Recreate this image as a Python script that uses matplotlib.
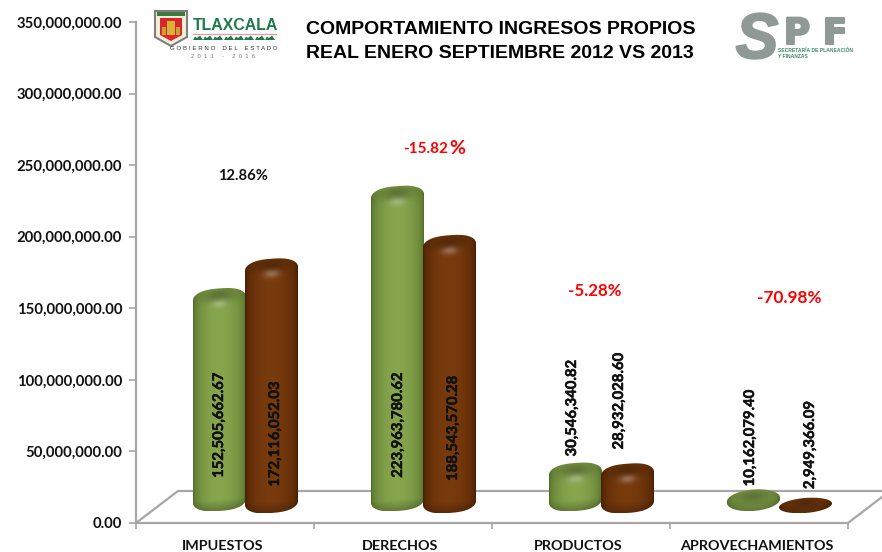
#Comportamiento ingresos propios, cylinder bars drawn on a flat axes
import numpy as np
import matplotlib
matplotlib.use("Agg")
import matplotlib.pyplot as plt
import matplotlib.patheffects as pe
from matplotlib.patches import Polygon, Rectangle
from matplotlib.ticker import FuncFormatter

#Data
categories=["IMPUESTOS","DERECHOS","PRODUCTOS","APROVECHAMIENTOS"]
real_2012=[152505662.67,223963780.62,30546340.82,10162079.40]
real_2013=[172116052.03,188543570.28,28932028.60,2949366.09]
changes=["12.86","-15.82","-5.28","-70.98"]
yticks=[0,50000000,100000000,150000000,200000000,250000000,300000000,350000000]

W,H=882,552
GREEN_DARK=np.array([0.30,0.41,0.15]); GREEN_LIGHT=np.array([0.53,0.65,0.30])
BROWN_DARK=np.array([0.27,0.11,0.00]); BROWN_LIGHT=np.array([0.47,0.23,0.05])
GRAY="#A6A6A6"

fig=plt.figure(figsize=(W/100,H/100),dpi=100)
left,right,top,bottom=136,848,22,523
ax=fig.add_axes([left/W,1-bottom/H,(right-left)/W,(bottom-top)/H])
ax.set_xlim(0,4); ax.set_ylim(0,350)
ax.patch.set_alpha(0)
#Overlays in pixel coordinates for floor, logos and free labels
pix=fig.add_axes([0,0,1,1],zorder=-1)
pix.set_xlim(0,W); pix.set_ylim(H,0); pix.axis("off")
top_pix=fig.add_axes([0,0,1,1],zorder=5)
top_pix.set_xlim(0,W); top_pix.set_ylim(H,0); top_pix.axis("off")

#Axes and floor
for name in ["top","right"]:
  ax.spines[name].set_visible(False)
for name in ["left","bottom"]:
  ax.spines[name].set_color(GRAY); ax.spines[name].set_linewidth(1.6)
ax.set_yticks([v/1e6 for v in yticks])
ax.yaxis.set_major_formatter(FuncFormatter(lambda v,p:"{:,.2f}".format(v*1e6)))
ax.tick_params(axis="y",length=5,width=1.2,color=GRAY,pad=5)
ax.set_xticks(range(5)); ax.set_xticklabels([])
ax.tick_params(axis="x",which="major",length=4,width=1.2,color=GRAY)
ax.set_xticks(np.arange(4)+0.485,minor=True)
ax.set_xticklabels(categories,minor=True)
ax.tick_params(axis="x",which="minor",length=0,pad=12)
for lab in ax.get_yticklabels():
  lab.set_family("Lato"); lab.set_fontweight("bold"); lab.set_fontsize(10.7); lab.set_color("#111111")
for lab in ax.get_xticklabels(minor=True):
  lab.set_family("Lato"); lab.set_fontweight("bold"); lab.set_fontsize(10.4); lab.set_color("#111111")
pix.plot([136,178,882],[523,491,491],color=GRAY,lw=1.6)
pix.plot([848,882],[523,497],color=GRAY,lw=1.6)

#A cylinder is a shaded image clipped to a tilted outline
def cylinder(x0,width,value,base,pad,min_h,dark,light):
  xc=x0+width/2; hw=width/2
  ytop=base+max(pad+value,min_h)
  e=min(7.0,(ytop-base)/2)
  slope=2.0/1.431/hw
  t1=np.linspace(0,np.pi,60); t2=np.linspace(np.pi,2*np.pi,60)
  #Rounded shoulders: a bit squarer than an ellipse
  sq=0.75 if ytop-base>20 else 1.0
  xs=np.concatenate([xc+hw*np.sign(np.cos(t1))*np.abs(np.cos(t1))**sq,xc+hw*np.sign(np.cos(t2))*np.abs(np.cos(t2))**sq])
  ys=np.concatenate([ytop-e+e*np.sin(t1),base+e+e*np.sin(t2)])
  ys=ys+slope*(xs-xc)
  u=np.linspace(-1,1,120)
  v=np.linspace(ys.max(),ys.min(),max(60,int((ytop-base)*3)))
  uu,vv=np.meshgrid(u,v)
  vv=vv-slope*hw*uu
  shade=np.cos(uu*np.pi/2)**0.45
  img=dark+(light-dark)*shade[...,None]
  #Dark top cap, highlight under it, dark bottom edge
  cap=np.exp(-(uu/0.65)**2-((vv-(ytop-e*0.7))/(e*0.8))**2)
  img=img*(1-0.30*cap[...,None])
  if ytop-base>20:
    spot=np.exp(-(uu/0.3)**2-((vv-(ytop-e*1.6))/(e*0.4))**2)
    img=img+(1-img)*0.28*spot[...,None]
  low=np.clip(1-(vv-base)/(e*1.1),0,1)
  img=img*(1-0.25*low[...,None])
  im=ax.imshow(np.clip(img,0,1),extent=[xc-hw,xc+hw,ys.min(),ys.max()],aspect="auto",zorder=3,interpolation="bilinear")
  clip=Polygon(np.column_stack([xs,ys]),closed=True,transform=ax.transData,fc="none",ec="none")
  ax.add_patch(clip)
  im.set_clip_path(clip)

bar_w=53/178
for i in range(4):
  x_green=i+57/178
  cylinder(x_green,bar_w,real_2012[i]/1e6,8.4,3.0,15.0,GREEN_DARK,GREEN_LIGHT)
  cylinder(x_green+52/178,bar_w,real_2013[i]/1e6,7.0,5.5,10.5,BROWN_DARK,BROWN_LIGHT)
ax.set_xlim(0,4); ax.set_ylim(0,350)

#Value labels
label_x_2012=[219,398,572,750]; label_y_2012=[425,425,408,438]
label_x_2013=[275,453,619,810]; label_y_2013=[434,428,401,445]
heavy=[pe.withStroke(linewidth=0.35,foreground="#111111")]
for i in range(4):
  top_pix.text(label_x_2012[i],label_y_2012[i],"{:,.2f}".format(real_2012[i]),rotation=90,ha="center",va="center",
               family="Lato",fontweight="bold",fontsize=10.7,color="#111111",path_effects=heavy)
  top_pix.text(label_x_2013[i],label_y_2013[i],"{:,.2f}".format(real_2013[i]),rotation=90,ha="center",va="center",
               family="Lato",fontweight="bold",fontsize=10.7,color="#111111",path_effects=heavy)

#Percent changes
pct_x=[243,436,595,789]; pct_y=[176,149,291,298]
pct_color=["#111111","#FF0000","#FF0000","#FF0000"]
pct_size=[10.6,11,12.2,12.4]
for i in range(4):
  if i==1:
    top_pix.text(pct_x[i]-10,pct_y[i],changes[i],ha="center",va="center",family="Lato",fontweight="bold",fontsize=pct_size[i],color=pct_color[i])
    top_pix.text(pct_x[i]+21,pct_y[i]-1,"%",ha="center",va="center",family="Lato",fontweight="bold",fontsize=14,color=pct_color[i])
  else:
    top_pix.text(pct_x[i],pct_y[i],changes[i]+"%",ha="center",va="center",family="Lato",fontweight="bold",fontsize=pct_size[i],color=pct_color[i])

#Title
for txt,y in [("COMPORTAMIENTO INGRESOS PROPIOS",30),("REAL ENERO SEPTIEMBRE 2012 VS 2013",53)]:
  top_pix.text(306,y,txt,ha="left",va="center",family="Liberation Sans",fontweight="bold",fontsize=14,color="black")

#Tlaxcala logo
top_pix.add_patch(Polygon([[155,11],[187,11],[187,37],[171,46],[155,37]],closed=True,fc="#F3EFD8",ec="#7F7F7F",lw=1.5))
top_pix.add_patch(Polygon([[160,18],[182,18],[182,35],[171,41],[160,35]],closed=True,fc="#D9262C",ec="none"))
top_pix.add_patch(Rectangle((167,21),8,14,fc="#D9B23A",ec="none"))
top_pix.add_patch(Rectangle((162,27),4,8,fc="#C9A233",ec="none"))
top_pix.add_patch(Rectangle((176,27),4,8,fc="#C9A233",ec="none"))
top_pix.add_patch(Rectangle((157,12),28,4,fc="#3C7A3C",ec="none"))
top_pix.text(193,26,"TLAXCALA",ha="left",va="center",family="Liberation Sans",fontweight="bold",fontsize=11.4,color="#1C7A4C")
top_pix.plot([193,276],[33.5,33.5],color="#E59A9A",lw=0.9)
hill_x=[193,203,213,224,234,244,255,265]
for hx in hill_x:
  top_pix.add_patch(Polygon([[hx,40],[hx+2,36.5],[hx+4,38],[hx+7,35.5],[hx+10,40]],closed=True,fc="#1C7A4C",ec="none"))
top_pix.text(223.5,49,"G O B I E R N O    D E L    E S T A D O",ha="center",va="center",family="Liberation Sans",fontsize=4.4,color="#333333")
top_pix.text(223,56,"2  0  1  1     -     2  0  1  6",ha="center",va="center",family="Liberation Sans",fontsize=4.2,color="#777777")

#SPF logo
fat=[pe.withStroke(linewidth=1.5,foreground="#8F9A97")]
top_pix.text(757,41,"S",ha="center",va="center",family="Liberation Sans",fontweight="bold",style="italic",fontsize=46,color="#8F9A97",path_effects=fat)
top_pix.text(797,34,"P",ha="center",va="center",family="DejaVu Sans",fontweight="bold",fontsize=26,color="#8F9A97",path_effects=fat)
top_pix.text(835,34,"F",ha="center",va="center",family="DejaVu Sans",fontweight="bold",fontsize=26,color="#8F9A97",path_effects=fat)
top_pix.text(778,50.5,"SECRETARÍA DE PLANEACIÓN",ha="left",va="center",family="Liberation Sans",fontweight="bold",fontsize=3.6,color="#3F8A66")
top_pix.text(778,57,"Y FINANZAS",ha="left",va="center",family="Liberation Sans",fontweight="bold",fontsize=3.6,color="#3F8A66")

plt.savefig("out.png",dpi=100)
plt.close()
